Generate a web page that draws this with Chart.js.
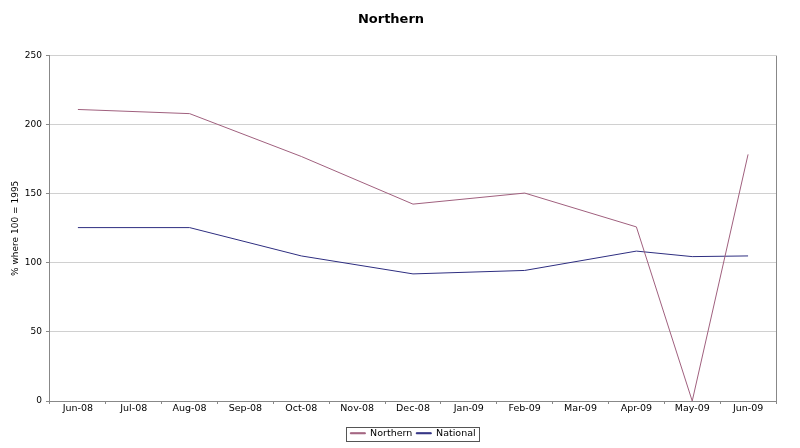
<!DOCTYPE html>
<html lang="en">
<head>
  <meta charset="UTF-8">
  <script src="https://cdn.jsdelivr.net/npm/chart.js"></script>
  <title>Northern</title>
  <style>
    body { margin: 0; background: #fff; }
  </style>
</head>
<body>
  <canvas id="chart" width="800" height="448"></canvas>
  <script>
    const months = ['Jun-08', 'Jul-08', 'Aug-08', 'Sep-08', 'Oct-08', 'Nov-08', 'Dec-08',
                    'Jan-09', 'Feb-09', 'Mar-09', 'Apr-09', 'May-09', 'Jun-09'];
    const northern = [211, null, 208, null, 177, null, 142.5, null, 150.5, null, 126, 0, 178.5];
    const national = [125.5, null, 125.5, null, 105, null, 92, null, 94.5, null, 108.5, 104.5, 105];
    const yTicks = [0, 50, 100, 150, 200, 250];

    const font = 'Verdana, "DejaVu Sans", sans-serif';
    const legendShift = 22; // legend sits a bit right of centre in the original

    // box round the legend and a right edge for the plot, as in the original
    const frame = {
      id: 'frame',
      afterLayout(chart) {
        const lg = chart.legend;
        lg.left += legendShift;
        lg.right += legendShift;
      },
      afterDraw(chart) {
        const c = chart.ctx;
        const a = chart.chartArea;
        c.save();
        c.strokeStyle = '#888';
        c.lineWidth = 1;
        c.beginPath();
        c.moveTo(Math.round(a.right) + 0.5, a.top);
        c.lineTo(Math.round(a.right) + 0.5, a.bottom);
        c.stroke();
        const boxes = chart.legend.legendHitBoxes;
        if (boxes && boxes.length) {
          const l = Math.min(...boxes.map(b => b.left)) - 4;
          const r = Math.max(...boxes.map(b => b.left + b.width)) + 4;
          const t = Math.min(...boxes.map(b => b.top)) - 2;
          const btm = Math.max(...boxes.map(b => b.top + b.height)) + 2;
          c.strokeStyle = '#555';
          c.strokeRect(Math.round(l) + 0.5, Math.round(t) + 0.5, Math.round(r - l), Math.round(btm - t));
        }
        c.restore();
      }
    };

    new Chart(document.getElementById('chart'), {
      type: 'line',
      data: {
        labels: months,
        datasets: [{
          label: 'Northern',
          data: northern,
          borderColor: '#a0607e',
          backgroundColor: '#a0607e',
          borderWidth: 1,
          pointRadius: 0,
          spanGaps: true,
          tension: 0
        }, {
          label: 'National',
          data: national,
          borderColor: '#2e2e80',
          backgroundColor: '#2e2e80',
          borderWidth: 1,
          pointRadius: 0,
          spanGaps: true,
          tension: 0
        }]
      },
      options: {
        responsive: false,
        animation: false,
        layout: { padding: { top: 6, right: 24, left: 6, bottom: 0 } },
        plugins: {
          title: {
            display: true,
            text: 'Northern',
            color: '#000',
            font: { family: font, size: 13, weight: 'bold' },
            padding: { top: 6, bottom: 28 }
          },
          legend: {
            position: 'bottom',
            labels: {
              color: '#000',
              font: { family: font, size: 9.5 },
              boxWidth: 15,
              boxHeight: 1,
              padding: 4
            }
          },
          tooltip: { enabled: false }
        },
        scales: {
          x: {
            offset: true,
            afterFit(axis) {
              axis.height += 11;
            },
            grid: {
              offset: true,
              drawOnChartArea: false,
              drawTicks: true,
              tickLength: 3,
              color: '#888'
            },
            border: { color: '#888' },
            ticks: {
              color: '#000',
              font: { family: font, size: 9.5, lineHeight: 1 },
              maxRotation: 0,
              autoSkip: false,
              padding: 0
            }
          },
          y: {
            min: 0,
            max: 250,
            afterBuildTicks(axis) {
              axis.ticks = yTicks.map(v => ({ value: v }));
            },
            grid: {
              color: '#d0d0d0',
              tickColor: '#888',
              tickLength: 4
            },
            border: { color: '#888' },
            ticks: {
              color: '#000',
              font: { family: font, size: 9 },
              padding: 4
            },
            title: {
              display: true,
              text: '% where 100 = 1995',
              color: '#000',
              font: { family: font, size: 9 },
              padding: { top: 4, bottom: 0 }
            }
          }
        }
      },
      plugins: [frame]
    });
  </script>
</body>
</html>
